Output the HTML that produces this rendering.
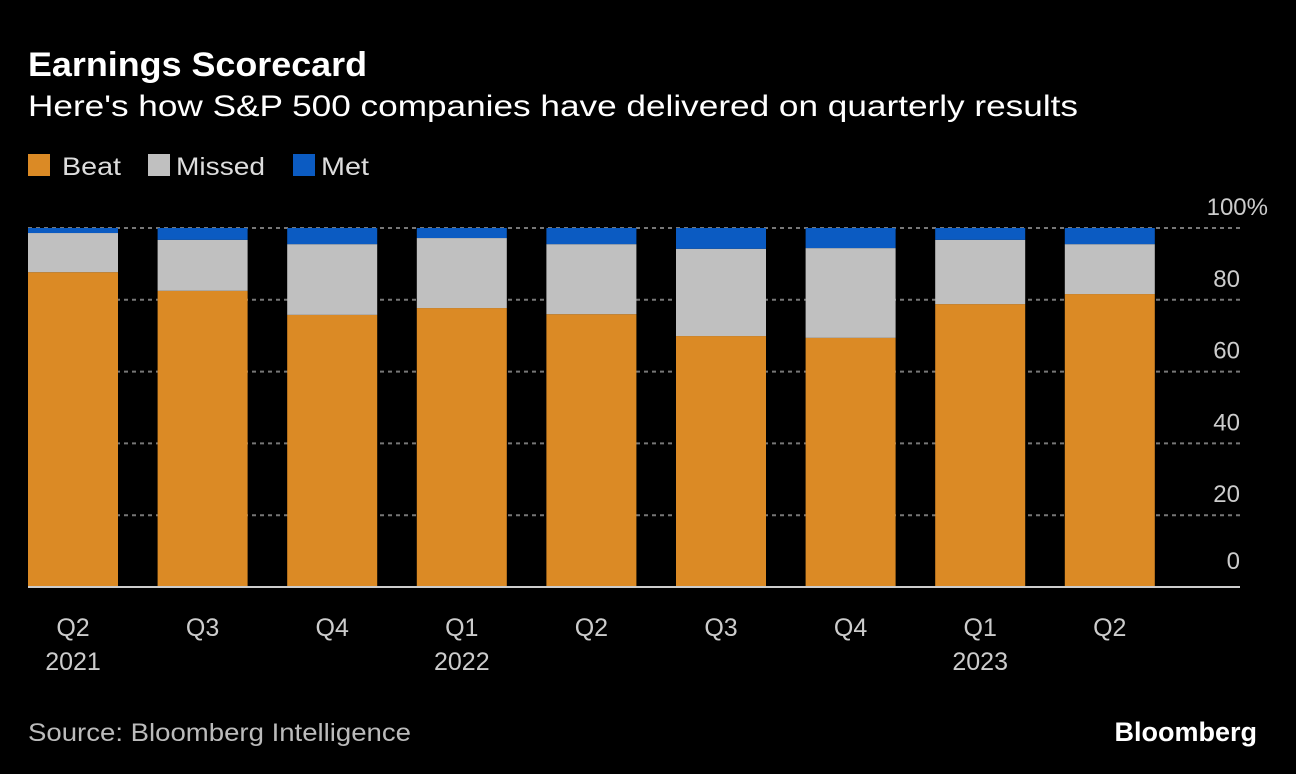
<!DOCTYPE html>
<html><head><meta charset="utf-8"><style>
body{margin:0;background:#000;width:1296px;height:774px;overflow:hidden;font-family:"Liberation Sans",sans-serif;color:#fff}
svg{position:absolute;left:0;top:0}
</style></head><body>
<svg width="1296" height="774">
<text x="28" y="76" font-size="34" font-weight="bold" fill="#fff" textLength="339" lengthAdjust="spacingAndGlyphs">Earnings Scorecard</text>
<text x="28" y="116" font-size="30" fill="#fff" textLength="1050" lengthAdjust="spacingAndGlyphs">Here's how S&amp;P 500 companies have delivered on quarterly results</text>
<g>
<rect x="28" y="154" width="22" height="22" fill="#db8a25"/>
<text x="62" y="175" font-size="25" fill="#ddd" textLength="59" lengthAdjust="spacingAndGlyphs">Beat</text>
<rect x="148" y="154" width="22" height="22" fill="#c0c0c0"/>
<text x="176" y="175" font-size="25" fill="#ddd" textLength="89" lengthAdjust="spacingAndGlyphs">Missed</text>
<rect x="293" y="154" width="22" height="22" fill="#0b5bc2"/>
<text x="321" y="175" font-size="25" fill="#ddd" textLength="48" lengthAdjust="spacingAndGlyphs">Met</text>
</g>
<g id="plot"></g>
<text x="28" y="741" font-size="25" fill="#bbb" textLength="383" lengthAdjust="spacingAndGlyphs">Source: Bloomberg Intelligence</text>
<text x="1257" y="741" font-size="27" font-weight="bold" fill="#fff" text-anchor="end">Bloomberg</text>
</svg>
<script>
const quarters=["Q2","Q3","Q4","Q1","Q2","Q3","Q4","Q1","Q2"];
const years=["2021","","","2022","","","","2023",""];
const beat=[87.7,82.5,75.8,77.7,76.0,69.9,69.4,78.8,81.6];
const missed=[10.9,14.2,19.7,19.5,19.5,24.3,25.0,17.9,13.9];
const met=[1.4,3.3,4.5,2.8,4.5,5.8,5.6,3.3,4.5];
const yTicks=[0,20,40,60,80,100];
const NS="http://www.w3.org/2000/svg";
const g=document.getElementById('plot');
const y0=587,y100=228,xL=28,xR=1240,step=129.6,bw=90;
const y=v=>y0-(y0-y100)*v/100;
const x=i=>xL+i*step;
function mk(t,a){const e=document.createElementNS(NS,t);for(const k in a)e.setAttribute(k,a[k]);g.appendChild(e);return e;}
yTicks.forEach(t=>{
 if(t>0){const l=mk('line',{x1:xL,x2:xR,y1:y(t),y2:y(t),stroke:'#777','stroke-width':2,'stroke-dasharray':'4 4'});
 
 }
 const tx=mk('text',{x:1240,y:t===0?y(t)-18:y(t)-13,'font-size':24,fill:'#ccc','text-anchor':'end'});
 tx.textContent=t===100?'100%':t;
 if(t===100)tx.setAttribute('x',1268);
 
 
});
quarters.forEach((q,i)=>{
 let b=0;
 [[beat,'#db8a25','beat'],[missed,'#c0c0c0','missed'],[met,'#0b5bc2','met']].forEach(([arr,c,n])=>{
  const r=mk('rect',{x:x(i),y:y(b+arr[i]),width:bw,height:y(b)-y(b+arr[i]),fill:c});
  
  
  b+=arr[i];
 });
 const t=mk('text',{x:x(i)+bw/2,y:636,'font-size':25,fill:'#ccc','text-anchor':'middle'});
 t.textContent=q;
 
 
 if(years[i]){const t2=mk('text',{x:x(i)+bw/2,y:670,'font-size':25,fill:'#ccc','text-anchor':'middle'});
 t2.textContent=years[i];
 
 }
});
const base=mk('line',{x1:xL,x2:xR,y1:y0,y2:y0,stroke:'#ccc','stroke-width':2});


</script>
</body></html>
